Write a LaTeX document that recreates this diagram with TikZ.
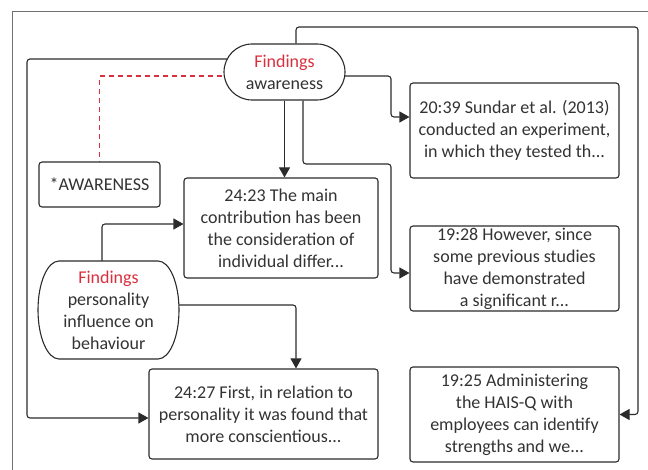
\documentclass[tikz,border=0pt]{standalone}
\usepackage{fontspec}
\setmainfont{Carlito}
\usetikzlibrary{arrows.meta,backgrounds,calc}
\definecolor{ink}{HTML}{2B2B2B}
\definecolor{txt}{HTML}{333333}
\definecolor{fred}{RGB}{216,48,62}
\definecolor{framec}{HTML}{707070}
\begin{document}
\begin{tikzpicture}[x=1pt,y=1pt,
  every node/.style={font=\fontsize{18}{22}\selectfont,text=txt,align=center,inner sep=0pt},
  box/.style={draw=ink,line width=1.1pt,fill=white,rounded corners=3pt},
  stadium/.style={draw=ink,line width=1.1pt,fill=white,rounded corners=28pt},
  conn/.style={draw=ink,line width=1.1pt,rounded corners=3pt},
  arr/.style={conn,-{Triangle[length=10pt,width=11pt]}},
  redline/.style={draw=fred,line width=1.1pt,dash pattern=on 5pt off 4pt}]
\useasboundingbox (0,0) rectangle (648,470);
% personality shape
\draw[draw=ink,line width=1.1pt,fill=white] (59,209) -- (158,209)
  arc[start angle=90,end angle=-90,x radius=21,y radius=49] -- (59,111)
  arc[start angle=270,end angle=90,x radius=21,y radius=49] -- cycle;
\node (pers) [minimum width=141pt,minimum height=98pt] at (108.5,160)
  {{\color{fred}Findings}\\personality\\influence on\\behaviour};
\node (aw) [stadium,minimum width=121pt,minimum height=56pt] at (284.5,398)
  {{\color{fred}Findings}\\awareness};
\node (awbox) [box,minimum width=121pt,minimum height=45pt] at (99.5,285.5) {*AWARENESS};
\node (e2423) [box,minimum width=194pt,minimum height=100pt] at (281,242)
  {24:23 The main\\contribution has been\\the consideration of\\individual differ...};
\node (e2427) [box,minimum width=229pt,minimum height=90pt] at (263.5,56)
  {24:27 First, in relation to\\personality it was found that\\more conscientious...};
\node (e2039) [box,minimum width=209pt,minimum height=95pt] at (514.5,339.5)
  {20:39 Sundar et al. (2013)\\conducted an experiment,\\in which they tested th...};
\node (e1928) [box,minimum width=209pt,minimum height=85pt] at (514.5,201.5)
  {19:28 However, since\\some previous studies\\have demonstrated\\a significant r...};
\node (e1925) [box,minimum width=209pt,minimum height=95pt] at (514.5,55.5)
  {19:25 Administering\\the HAIS-Q with\\employees can identify\\strengths and we...};
\begin{scope}[on background layer]
  \draw[framec,line width=1pt] (12,-2) -- (12,458) -- (650,458);
  \draw[arr] ([xshift=11.5pt]aw.north) |- (638,443) |- (e1925.east);
  \draw[arr] ([yshift=13pt]aw.center) -| (27,52) -- ([yshift=-4pt]e2427.west);
  \draw[redline] ([yshift=-4pt]aw.center) -| (awbox.north);
  \draw[arr] ([yshift=-4pt]aw.center) -| (391,353) -- ([yshift=13.5pt]e2039.west);
  \draw[arr] (aw.south) -- (aw.south |- e2423.north);
  \draw[arr] ([xshift=18.5pt]aw.south) |- (391,306) |- ([yshift=-4.5pt]e1928.west);
  \draw[arr] ([xshift=-6.5pt]pers.north) |- ([yshift=4pt]e2423.west);
  \draw[arr] ([yshift=5pt]pers.center) -| ([xshift=32.5pt]e2427.north);
\end{scope}
\end{tikzpicture}
\end{document}
